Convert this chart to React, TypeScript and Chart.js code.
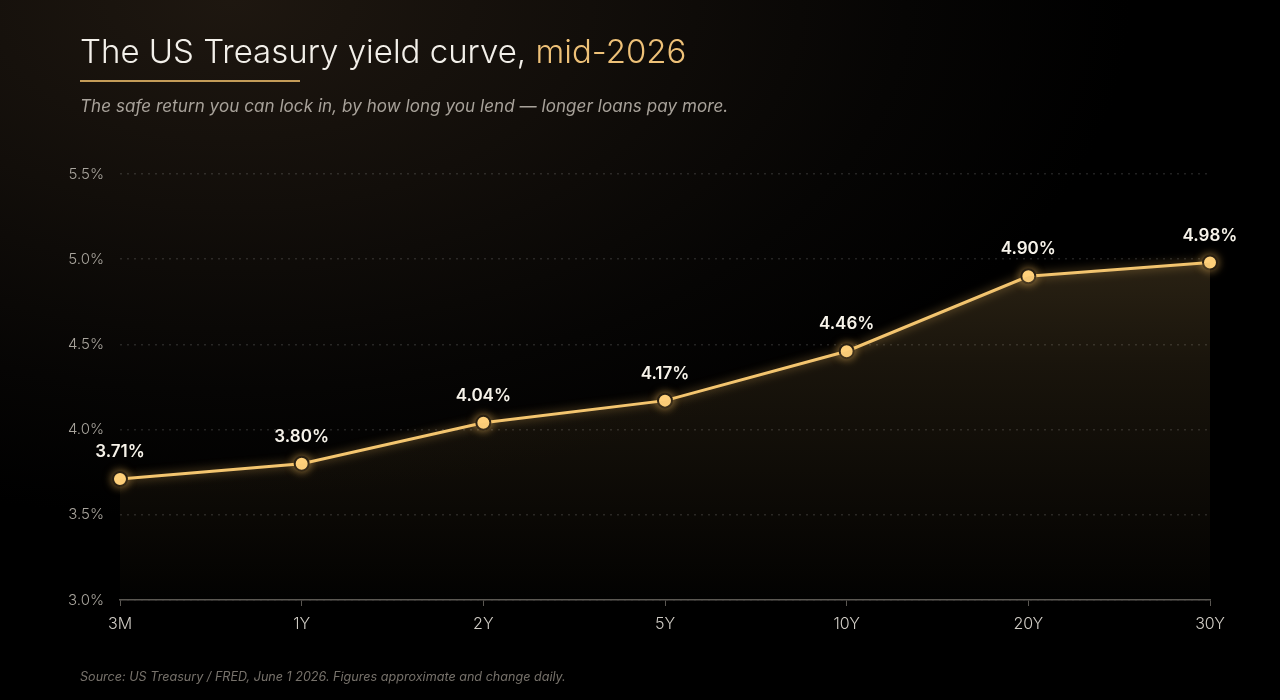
import React, { useEffect, useRef } from "react";
import { Chart, registerables } from "chart.js";

Chart.register(...registerables);

const maturities = ["3M", "1Y", "2Y", "5Y", "10Y", "20Y", "30Y"];
const yields = [3.71, 3.8, 4.04, 4.17, 4.46, 4.9, 4.98];
const yMin = 3.0;
const yMax = 5.5;
const yStep = 0.5;

const FONT = "Inter, 'Liberation Sans', Arial, sans-serif";

const glowPlugin = {
  id: "glow",
  beforeDatasetDraw(chart: any, args: any) {
    if (args.index === 1) {
      const ctx = chart.ctx;
      ctx.save();
      ctx.shadowColor = "rgba(255, 196, 100, 0.55)";
      ctx.shadowBlur = 10;
    }
  },
  afterDatasetDraw(chart: any, args: any) {
    if (args.index === 1) chart.ctx.restore();
  },
};

const labelPlugin = {
  id: "valueLabels",
  afterDatasetsDraw(chart: any) {
    const meta = chart.getDatasetMeta(1);
    const ctx = chart.ctx;
    ctx.save();
    ctx.font = `600 17px ${FONT}`;
    ctx.fillStyle = "#f7f3ea";
    ctx.textAlign = "center";
    ctx.textBaseline = "middle";
    meta.data.forEach((pt: any, i: number) => {
      ctx.fillText(yields[i].toFixed(2) + "%", pt.x, pt.y - 27);
    });
    ctx.restore();
  },
};

export default function App() {
  const ref = useRef<HTMLCanvasElement | null>(null);

  useEffect(() => {
    document.body.style.margin = "0";
    const canvas = ref.current!;
    const chart = new Chart(canvas, {
      type: "line",
      data: {
        labels: maturities,
        datasets: [
          {
            data: yields,
            fill: "start",
            borderWidth: 0,
            pointRadius: 0,
            backgroundColor: (c: any) => {
              const area = c.chart.chartArea;
              if (!area) return "rgba(0,0,0,0)";
              const g = c.chart.ctx.createLinearGradient(0, area.top, 0, area.bottom);
              g.addColorStop(0, "rgba(205, 165, 95, 0.27)");
              g.addColorStop(0.45, "rgba(205, 165, 95, 0.12)");
              g.addColorStop(1, "rgba(205, 165, 95, 0.01)");
              return g;
            },
            tension: 0,
          },
          {
            data: yields,
            fill: false,
            borderColor: "#f6c770",
            borderWidth: 3,
            pointRadius: 7,
            pointBackgroundColor: "#ffd27e",
            pointBorderColor: "#2a2012",
            pointBorderWidth: 2,
            tension: 0,
            clip: false as any,
          },
        ],
      },
      options: {
        animation: false,
        responsive: false,
        layout: { padding: { left: 0, right: 70, top: 174, bottom: 0 } },
        plugins: {
          legend: { display: false },
          tooltip: { enabled: false },
        },
        scales: {
          x: {
            offset: false,
            grid: {
              drawOnChartArea: false,
              drawTicks: true,
              tickLength: 6,
              tickColor: "#5a5752",
            },
            border: { color: "#5a5752", width: 1.5 },
            ticks: {
              color: "#cfcbc4",
              font: { family: FONT, size: 16, weight: "300" },
              padding: 9,
              maxRotation: 0,
            },
            afterFit(scale: any) {
              scale.height = 100;
            },
          },
          y: {
            min: yMin,
            max: yMax,
            grid: {
              color: "rgba(255,255,255,0.13)",
              drawTicks: false,
              lineWidth: 1.5,
            },
            border: { display: false, dash: [2, 5] },
            ticks: {
              stepSize: yStep,
              color: "#a9a59d",
              font: { family: FONT, size: 15, weight: "300" },
              padding: 16,
              callback: (v: any) => Number(v).toFixed(1) + "%",
            },
            afterFit(scale: any) {
              scale.width = 120;
            },
          },
        },
      },
      plugins: [glowPlugin, labelPlugin],
    } as any);
    return () => chart.destroy();
  }, []);

  return (
    <div
      style={{
        position: "fixed",
        left: 0,
        top: 0,
        width: 1280,
        height: 700,
        overflow: "hidden",
        background:
          "radial-gradient(ellipse 900px 520px at 18% 0%, #1e1710 0%, #120e0a 40%, #060504 75%, #000 100%)",
        fontFamily: FONT,
      }}
    >
      <canvas
        ref={ref}
        width={1280}
        height={700}
        style={{ position: "absolute", left: 0, top: 0, width: 1280, height: 700 }}
      />
      <div
        style={{
          position: "absolute",
          left: 80,
          top: 35,
          fontSize: 33,
          fontWeight: 300,
          lineHeight: 1,
          color: "#f3f0ea",
          whiteSpace: "nowrap",
        }}
      >
        The US Treasury yield curve, <span style={{ color: "#eec178" }}>mid-2026</span>
      </div>
      <div
        style={{
          position: "absolute",
          left: 80,
          top: 80,
          width: 220,
          height: 2,
          background: "#c49c58",
        }}
      />
      <div
        style={{
          position: "absolute",
          left: 80,
          top: 98,
          fontSize: 17,
          lineHeight: 1,
          fontStyle: "italic",
          color: "#a8a29a",
          whiteSpace: "nowrap",
          letterSpacing: 0.07,
        }}
      >
        The safe return you can lock in, by how long you lend — longer loans pay more.
      </div>
      <div
        style={{
          position: "absolute",
          left: 80,
          top: 671,
          fontSize: 12.6,
          lineHeight: 1,
          fontStyle: "italic",
          color: "#77726b",
          whiteSpace: "nowrap",
        }}
      >
        Source: US Treasury / FRED, June 1 2026. Figures approximate and change daily.
      </div>
    </div>
  );
}
